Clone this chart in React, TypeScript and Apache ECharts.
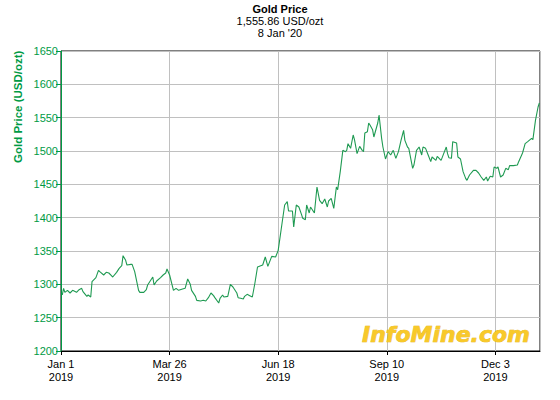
import React, { useEffect, useRef } from "react";
import * as echarts from "echarts";

// Day offsets since 1 Jan 2019 and gold price (USD/ozt)
const days = [
  1, 2, 3, 5, 7, 9, 12, 14, 16, 17, 20, 21, 23, 24, 27, 29, 30, 33, 35, 37, 39, 40, 43, 45, 47, 48, 50, 51, 54, 55, 57, 60, 61, 64, 66, 67, 71, 72, 74, 77, 79, 81, 82, 84, 87, 89, 91, 94, 96, 98, 100, 101, 104, 105, 108, 110, 112, 114, 116, 118, 119, 122, 123, 125,
  126, 129, 131, 133, 136, 137, 139, 141, 142, 144, 146, 148, 150, 152, 156, 158, 160, 163, 166, 168, 171, 173, 175, 176, 179, 180, 182, 184, 186, 187, 189, 190, 192, 193, 196, 198, 200, 202, 204, 206, 207, 209, 211, 213, 214,
  216, 218, 220, 221, 222, 224, 226, 227, 229, 231, 233, 234, 235, 237, 238, 239, 241, 242, 245, 246, 248, 249, 251, 253, 255, 257, 259, 261, 263, 265, 266, 268, 269, 272, 273, 275, 277, 279, 280, 282, 284, 286, 287, 290, 291, 294, 296, 298, 299, 300,
  302, 303, 306, 307, 309, 311, 313, 314, 316, 319, 321, 323, 325, 327, 329, 330, 332, 334, 335, 337, 338, 340, 342, 344, 346, 347, 350, 353, 354, 357, 359, 361, 364, 365, 367, 369, 370,
];
const prices = [
  1284, 1294, 1288, 1291, 1287, 1291, 1288, 1292, 1294, 1289, 1282, 1284, 1281, 1304, 1310, 1321, 1319, 1314, 1318, 1317, 1313, 1311, 1318, 1324, 1328, 1343, 1336, 1329, 1330, 1330, 1319, 1291, 1288, 1288, 1292, 1299, 1311, 1299, 1305, 1310, 1314, 1317, 1323, 1314, 1291, 1294, 1291, 1293, 1294, 1308, 1300, 1291, 1282, 1276, 1275, 1276, 1275, 1280, 1287, 1283, 1280, 1272, 1279, 1284,
  1281, 1282, 1300, 1296, 1287, 1280, 1279, 1278, 1282, 1285, 1283, 1281, 1302, 1326, 1329, 1341, 1327, 1342, 1341, 1351, 1392, 1419, 1424, 1410, 1410, 1386, 1419, 1416, 1405, 1399, 1397, 1419, 1407, 1416, 1407, 1446, 1426, 1421, 1428, 1416, 1425, 1429, 1414, 1446, 1442,
  1469, 1501, 1499, 1501, 1511, 1504, 1524, 1517, 1496, 1507, 1501, 1499, 1527, 1529, 1542, 1539, 1532, 1521, 1542, 1554, 1519, 1506, 1488, 1499, 1494, 1501, 1489, 1499, 1516, 1531, 1516, 1506, 1504, 1474, 1479, 1501, 1506, 1494, 1506, 1504, 1494, 1484, 1491, 1486, 1492, 1486, 1496, 1506, 1496, 1490,
  1489, 1514, 1512, 1491, 1488, 1469, 1459, 1456, 1464, 1471, 1471, 1467, 1461, 1456, 1461, 1455, 1462, 1461, 1476, 1474, 1476, 1461, 1464, 1474, 1472, 1478, 1478, 1479, 1484, 1497, 1511, 1514, 1519, 1517, 1546, 1566, 1572,
];

const titleLines = ["Gold Price", "1,555.86 USD/ozt", "8 Jan '20"];
const yAxisTitle = "Gold Price (USD/ozt)";
const logoText = "InfoMine.com";
const monthNames = ["Jan", "Feb", "Mar", "Apr", "May", "Jun", "Jul", "Aug", "Sep", "Oct", "Nov", "Dec"];

const GREEN = "#009a44";
const LINE = "#1f9a52";

function dayLabel(d: number): string {
  const dt = new Date(Date.UTC(2019, 0, 1) + Math.round(d) * 86400000);
  return `${monthNames[dt.getUTCMonth()]} ${dt.getUTCDate()}\n${dt.getUTCFullYear()}`;
}

export default function App() {
  const ref = useRef<HTMLDivElement>(null);
  useEffect(() => {
    document.body.style.margin = "0";
    if (!ref.current) return;
    const chart = echarts.init(ref.current, undefined, { renderer: "svg" });
    const font = "Liberation Sans, Arial, sans-serif";
    chart.setOption({
      animation: false,
      backgroundColor: "#fff",
      grid: {
        left: 61,
        right: 20,
        top: 51,
        bottom: 49,
        show: true,
        borderColor: "#000",
        borderWidth: 1,
        backgroundColor: "transparent",
      },
      xAxis: {
        type: "value",
        min: 0,
        max: 370.5,
        interval: 84,
        axisLine: { show: true, lineStyle: { color: "#000" } },
        axisTick: { show: true, length: 4, lineStyle: { color: "#000" } },
        splitLine: { show: true, lineStyle: { color: "#c0c0c0", width: 1 } },
        axisLabel: {
          color: "#000",
          fontFamily: font,
          fontSize: 11,
          lineHeight: 13,
          margin: 6,
          showMaxLabel: false,
          formatter: (v: number) => (v % 84 === 0 ? dayLabel(v) : ""),
        },
      },
      yAxis: {
        type: "value",
        min: 1200,
        max: 1650,
        interval: 50,
        axisLine: { show: true, lineStyle: { color: GREEN } },
        axisTick: { show: true, length: 5, lineStyle: { color: GREEN } },
        splitLine: { show: true, lineStyle: { color: "#c0c0c0", width: 1 } },
        axisLabel: {
          color: GREEN,
          fontFamily: font,
          fontSize: 11,
          margin: 3,
          formatter: (v: number) => String(v),
        },
      },
      series: [
        {
          type: "line",
          data: days.map((d, i) => [d, prices[i]]),
          showSymbol: false,
          symbol: "none",
          lineStyle: { color: LINE, width: 1.1 },
          z: 3,
        },
      ],
      graphic: [
        {
          type: "text",
          left: "center",
          top: 3,
          style: { text: titleLines[0], fill: "#000", font: `bold 11px ${font}` },
        },
        {
          type: "text",
          left: "center",
          top: 15,
          style: { text: titleLines[1], fill: "#000", font: `11px ${font}` },
        },
        {
          type: "text",
          left: "center",
          top: 27,
          style: { text: titleLines[2], fill: "#000", font: `11px ${font}` },
        },
        {
          type: "text",
          x: 18,
          y: 163,
          rotation: Math.PI / 2,
          style: {
            text: yAxisTitle,
            fill: GREEN,
            font: `bold 11.5px ${font}`,
            textAlign: "left",
            textVerticalAlign: "middle",
          },
        },
        {
          type: "text",
          x: 362,
          y: 323,
          z: 2,
          style: {
            text: logoText,
            fill: "#f8c92a",
            stroke: "#e0a800",
            lineWidth: 0.6,
            font: "italic bold 22px DejaVu Sans, sans-serif",
            shadowColor: "rgba(90,90,90,0.7)",
            shadowBlur: 1,
            shadowOffsetX: 1.5,
            shadowOffsetY: 1.5,
          },
        },
      ],
    });
    return () => chart.dispose();
  }, []);
  return <div ref={ref} style={{ width: 560, height: 400 }} />;
}
